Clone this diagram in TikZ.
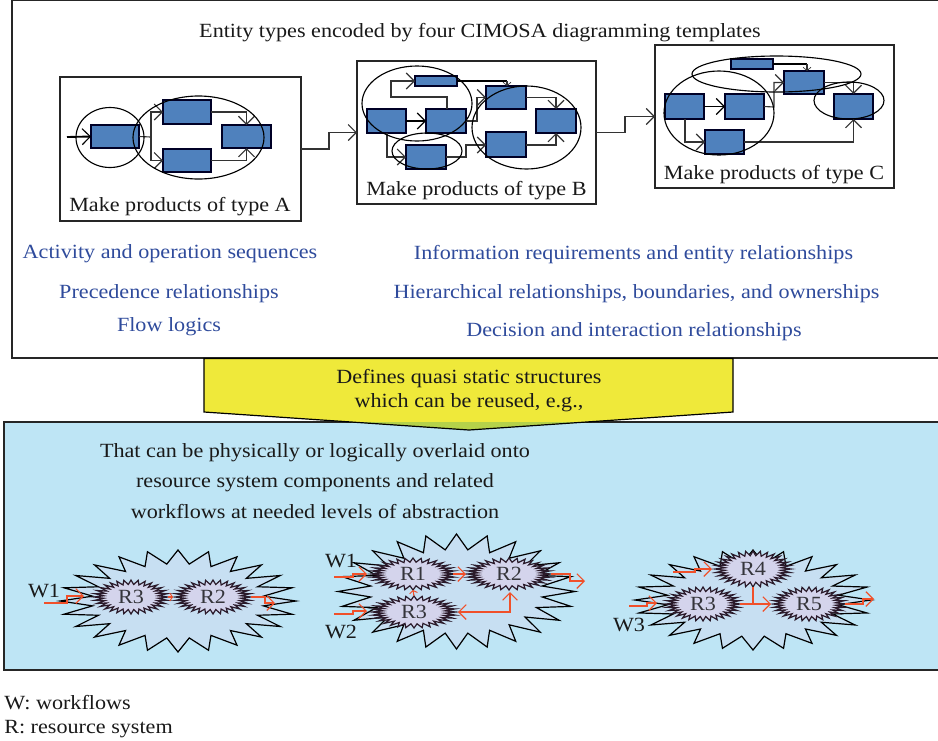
\documentclass[tikz,border=0pt]{standalone}
\usepackage{fontspec}
\setmainfont[FakeStretch=1.1]{Liberation Serif}
\usetikzlibrary{arrows.meta,shapes.geometric}
\definecolor{boxblue}{HTML}{4F81BD}
\definecolor{txtblue}{HTML}{2F4B9C}
\definecolor{panelblue}{HTML}{BEE5F5}
\definecolor{burstblue}{HTML}{C7DFF2}
\definecolor{innerlav}{HTML}{D4D4EC}
\definecolor{yel}{HTML}{EFE93A}
\definecolor{yelgreen}{HTML}{B5D24A}
\definecolor{redl}{HTML}{F0502A}
\definecolor{darkr}{HTML}{2A1A2A}
\tikzset{
  x=0.75pt,y=-0.75pt,
  blk/.style={draw=black!85!blue,line width=0.8pt,fill=boxblue,inner sep=0pt,outer sep=0pt},
  frm/.style={draw=black!85,line width=0.9pt,fill=white,inner sep=0pt,outer sep=0pt},
  ell/.style={draw=black,line width=0.85pt,ellipse,inner sep=0pt,outer sep=0pt},
  conn/.style={draw=black!80,line width=0.85pt,-{Straight Barb[length=6pt,width=12pt,line width=0.85pt]}},
  thickconn/.style={conn,draw=black,line width=1.4pt,-{Straight Barb[length=6pt,width=12pt,line width=0.85pt]}},
  tinyconn/.style={conn,-{Straight Barb[length=2.5pt,width=6pt,line width=0.5pt]}},
  redc/.style={draw=redl,line width=0.85pt,-{Straight Barb[length=5.5pt,width=11pt,line width=0.9pt]}},
  redd/.style={draw=redl,line width=0.85pt,{Straight Barb[length=5.5pt,width=11pt,line width=0.9pt]}-{Straight Barb[length=5.5pt,width=11pt,line width=0.9pt]}},
  txt/.style={font=\fontsize{15.1pt}{17pt}\selectfont,text=black!90,inner sep=0pt,anchor=center,yshift=-1.5pt},
  btxt/.style={txt,text=txtblue},
  rl/.style={font=\fontsize{15.1pt}{17pt}\selectfont,text=black!75!innerlav,inner sep=0pt,outer sep=0pt},
  wl/.style={txt,text=black!90}
}
\newcommand{\bx}[5]{\node[blk,minimum width={(#4-#2)*0.75pt},minimum height={(#5-#3)*0.75pt}] (#1) at ({(#2+#4)/2},{(#3+#5)/2}) {};}
\newcommand{\frmbox}[5]{\node[frm,minimum width={(#4-#2)*0.75pt},minimum height={(#5-#3)*0.75pt}] (#1) at ({(#2+#4)/2},{(#3+#5)/2}) {};}
\newcommand{\ellp}[5]{\node[ell,minimum width={2*#4*0.75pt},minimum height={2*#5*0.75pt}] (#1) at (#2,#3) {};}
\newcommand{\bigburst}[4]{\draw[draw=black,line width=0.9pt,fill=burstblue,miter limit=10] plot[samples at={0,...,47},variable=\x] ({#1+#3*(0.865+0.135*cos(180*\x))*cos(7.5*\x)},{#2+#4*(0.865+0.135*cos(180*\x))*sin(7.5*\x)}) -- cycle;}
\newcommand{\rburst}[6]{\draw[draw=darkr,line width=0.9pt,fill=innerlav,miter limit=10] plot[samples at={0,...,63},variable=\x] ({#2+#4*(0.87+0.13*cos(180*\x))*cos(5.625*\x)},{#3+#5*(0.87+0.13*cos(180*\x))*sin(5.625*\x)}) -- cycle;
\node[rl,minimum width={2*#4*0.75pt},minimum height={2*#5*0.75pt}] (#1) at (#2,#3) {#6};}
\begin{document}
\begin{tikzpicture}
\useasboundingbox (0,0) rectangle (938,740);
\clip (0,0) rectangle (938,740);
% outer frame
\node[frm,minimum width={936*0.75pt},minimum height={358*0.75pt}] (outer) at (480,179) {};
\node[txt] (title) at (480,31) {Entity types encoded by four CIMOSA diagramming templates};
% frames
\frmbox{fA}{60}{77}{301}{221}
\frmbox{fB}{357}{61}{596}{204}
\frmbox{fC}{655}{45}{894}{188}
\draw[conn] (fA.east) -- ++(28,0) |- (fB.west);
\draw[conn] (fB.east) -- ++(29,0) |- (fC.west);
% A
\bx{a1}{91}{125}{139}{148}
\bx{a2}{163}{100}{211}{124}
\bx{a3}{163}{149}{211}{172}
\bx{a4}{222}{125}{271}{148}
\coordinate (ain) at (67,137);
\coordinate (aj) at (151,137);
\draw[thickconn] (ain) -- (a1.west);
\draw[draw=black!80,line width=0.85pt] (a1.east) -- (aj);
\draw[conn] (aj) |- (a2.west);
\draw[conn] (aj) |- (a3.west);
\draw[conn] (a2.east) -| (a4.north);
\draw[conn] (a3.east) -| (a4.south);
\ellp{eA1}{110}{137.5}{34}{30}
\ellp{eA2}{198.5}{137.5}{65.5}{41.5}
\node[txt] (capA) at (180,205) {Make products of type A};
% B
\bx{b0}{415}{76}{457}{86}
\bx{b1}{367}{109}{406}{133}
\bx{b2}{426}{109}{466}{133}
\bx{b3}{406}{145}{446}{169}
\bx{b4}{486}{86}{526}{109}
\bx{b5}{486}{132}{526}{157}
\bx{b6}{536}{109}{576}{133}
\coordinate (bc1) at (447,97);
\coordinate (bc2) at (391,97);
\coordinate (bd1) at (507,81);
\coordinate (bd2) at (507,86);
\coordinate (be1) at (477,121);
\coordinate (bf1) at (387,157);
\coordinate (bg1) at (466,157);
\coordinate (bg2) at (466,145);
\draw[conn] (b2.north -| bc1) -- (bc1) -- (bc2) |- (b0.west);
\draw[draw=black,line width=1.4pt] (b0.east) -- (bd1);
\draw[tinyconn] (bd1) -- (bd2);
\draw[thickconn] (b1.east) -- (b2.west);
\draw[conn] (b2.east) -- (be1) |- (b4.west);
\draw[conn] (b1.south -| bf1) |- (b3.west);
\draw[conn] (b3.east) -- (bg1) -- (bg2) -- (b5.west |- bg2);
\draw[conn] (b4.east) -| (b6.north);
\draw[conn] (b5.east |- bg2) -| (b6.south);
\ellp{eB1}{417}{103.5}{55}{37.5}
\ellp{eB2}{427}{151}{35}{18}
\ellp{eB3}{526.5}{127.5}{54.5}{41.5}
\node[txt] (capB) at (476.5,189) {Make products of type B};
% C
\bx{c0}{731}{59}{773}{69}
\bx{c1}{784}{71}{824}{94}
\bx{c2}{665}{94}{704}{119}
\bx{c3}{725}{94}{764}{119}
\bx{c4}{705}{130}{744}{154}
\bx{c5}{834}{94}{873}{119}
\coordinate (cd1) at (807,64);
\coordinate (cd2) at (807,71);
\coordinate (ce1) at (774,107);
\coordinate (cf1) at (685,143);
\draw[draw=black,line width=1.4pt] (c0.east) -- (cd1);
\draw[tinyconn] (cd1) -- (cd2);
\draw[thickconn] (c2.east) -- (c3.west);
\draw[conn] (c3.east) -- (ce1) |- (c1.west);
\draw[conn] (c2.south -| cf1) |- (c4.west);
\draw[conn] (c4.east) -| (c5.south);
\draw[conn] (c1.east) -| (c5.north);
\ellp{eC1}{776.5}{74}{84.5}{18}
\ellp{eC2}{719}{113}{55}{42}
\ellp{eC3}{849}{100.5}{35}{18.5}
\node[txt] (capC) at (774,173) {Make products of type C};
% blue texts
\node[btxt] (t1) at (170,252) {Activity and operation sequences};
\node[btxt] (t2) at (169,292) {Precedence relationships};
\node[btxt] (t3) at (169,325) {Flow logics};
\node[btxt] (t4) at (633.5,253) {Information requirements and entity relationships};
\node[btxt] (t5) at (636.5,292) {Hierarchical relationships, boundaries, and ownerships};
\node[btxt] (t6) at (634,330) {Decision and interaction relationships};
% panel
\node[draw=black!85,line width=0.9pt,fill=panelblue,inner sep=0pt,outer sep=0pt,minimum width={944*0.75pt},minimum height={248*0.75pt}] (panel) at (476,546) {};
% yellow arrow
\fill[yel] (204,358.5) -- (733,358.5) -- (733,412) -- (469,430) -- (204,412) -- cycle;
\fill[yelgreen] (351,422) -- (586,422) -- (469,430) -- cycle;
\draw[black,line width=0.9pt,line join=miter] (204,358.5) -- (733,358.5) -- (733,412) -- (469,430) -- (204,412) -- cycle;
\node[txt] (y1) at (469,377) {Defines quasi static structures};
\node[txt] (y2) at (469,401) {which can be reused, e.g.,};
\node[txt] (p1) at (315,451) {That can be physically or logically overlaid onto};
\node[txt] (p2) at (315,481) {resource system components and related};
\node[txt] (p3) at (315,509) {workflows at needed levels of abstraction};
% burst 1
\bigburst{178}{601}{118}{51}
\rburst{pR3}{131}{597}{37}{17}{R3}
\rburst{pR2}{213}{597}{38}{17}{R2}
\node[wl] (w1a) at (44,589) {W1};
\coordinate (s1) at (44,603);
\coordinate (e1) at (84,596);
\coordinate (e2) at (173,597);
\coordinate (e3) at (275,603);
\draw[redc] (s1) -- ++(23,0) |- (e1);
\draw[redc,-{Straight Barb[length=2pt,width=6pt,line width=0.7pt]}] (pR3.east) -- (e2);
\draw[redc] (pR2.east) -- ++(14,0) |- (e3);
% burst 2
\bigburst{456.5}{591.5}{118.5}{57.5}
\rburst{qR1}{413}{574}{42}{16}{R1}
\rburst{qR2}{509}{574}{42}{16}{R2}
\rburst{qR3}{414}{612}{42}{16}{R3}
\node[wl] (w1b) at (341,559) {W1};
\node[wl] (w2b) at (341,630) {W2};
\coordinate (s2) at (334,577);
\coordinate (s3) at (334,614);
\coordinate (e4) at (367,574);
\coordinate (e5) at (367,611);
\coordinate (e6) at (466,574);
\coordinate (e7) at (458,612);
\coordinate (e8) at (510,592);
\coordinate (e9) at (585,581);
\draw[redc] (s2) -- ++(19,0) |- (e4);
\draw[redc] (s3) -- ++(19,0) |- (e5);
\draw[redc] (qR1.east) ++(-2,0) -- (e6);
\draw[redc,-{Straight Barb[length=2pt,width=6pt,line width=0.7pt]}] (qR3.north) -- (qR1.south);
\draw[redd] (e8) |- (e7);
\draw[redc] (qR2.east) -- ++(19,0) |- (e9);
% burst 3
\bigburst{753}{600}{118}{50}
\rburst{rR4}{753}{569}{38}{18}{R4}
\rburst{rR3}{703}{604}{37}{17}{R3}
\rburst{rR5}{809}{604}{36}{17}{R5}
\node[wl] (w3) at (629,623) {W3};
\coordinate (s4) at (629,606);
\coordinate (s5) at (673,572);
\coordinate (e10) at (657,603);
\coordinate (e11) at (712,569);
\coordinate (e12) at (771,604);
\coordinate (e13) at (874,599);
\coordinate (j3) at (753,604);
\draw[redc] (s4) -- ++(18,0) |- (e10);
\draw[redc] (s5) -- ++(22,0) |- (e11);
\draw[redc] (rR3.east) -- (e12);
\draw[draw=redl,line width=0.85pt] (rR4.south) -- (j3);
\draw[redc] (rR5.east) -- ++(18,0) |- (e13);
% footer
\node[txt,anchor=west] (f1) at (4,700.5) {W: workflows};
\node[txt,anchor=west] (f2) at (4,727) {R: resource system};
\end{tikzpicture}
\end{document}
